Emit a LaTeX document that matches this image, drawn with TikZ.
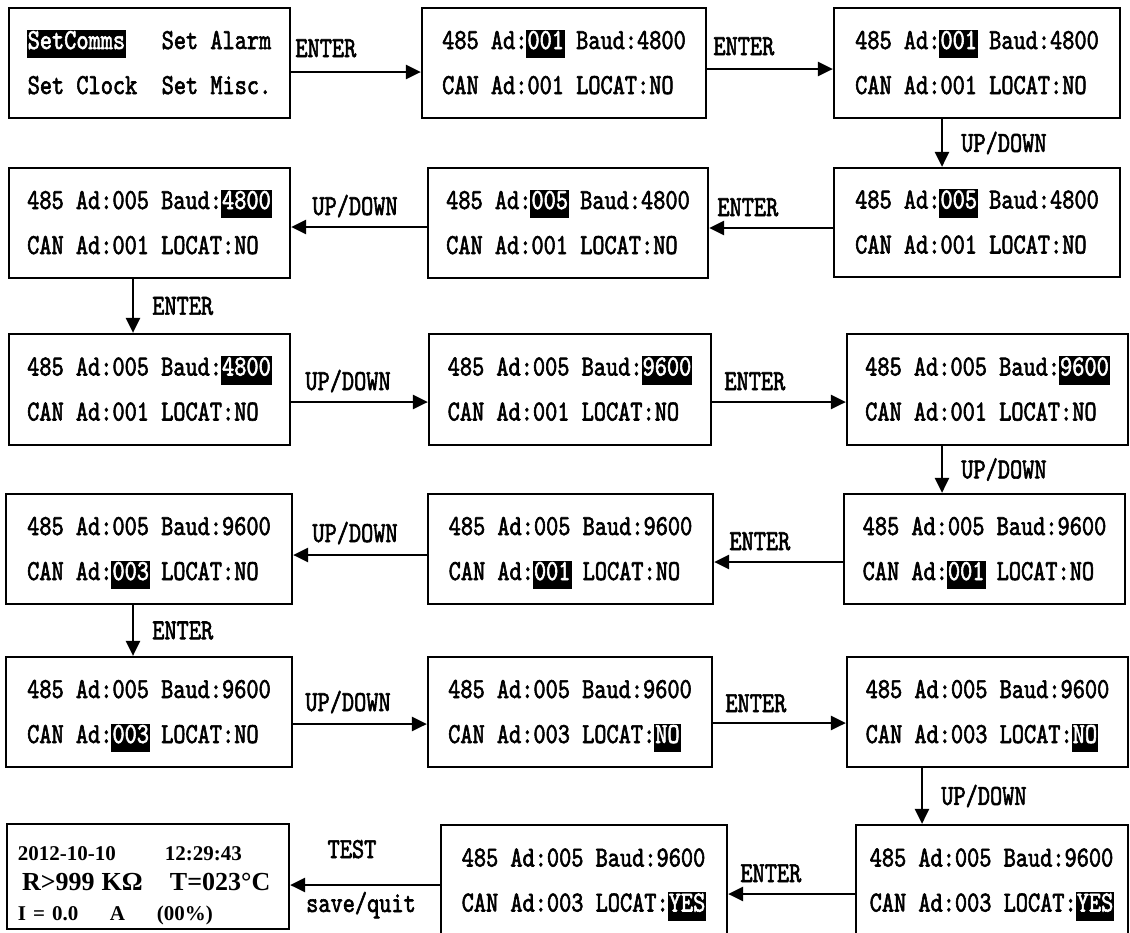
\documentclass[tikz,border=0pt]{standalone}
\usepackage{fontspec}
\usetikzlibrary{arrows.meta, positioning}
\newfontfamily\lcdfont[Extension=.otf,FakeStretch=0.80,FakeBold=2]{lmmono10-regular}
\newfontfamily\dispfont{Liberation Serif}
\newcommand{\lcd}{\lcdfont\fontsize{14.5pt}{22.5pt}\selectfont}
\newcommand{\hl}[1]{\hspace{-0.5pt}{\fboxsep=0.5pt\colorbox{black}{\rule[-4pt]{0pt}{12.6pt}\textcolor{white}{#1}}}\hspace{-0.5pt}}
\tikzset{
  screen/.style 2 args={rectangle,draw=black,line width=1.1pt,align=left,inner sep=0pt,
    font=\lcd,text height=31pt,text depth=0pt,minimum width=#1,minimum height=#2},
  arr/.style={-{Triangle[length=7.5pt,width=7pt]},line width=1.3pt},
  keyh/.style={font=\lcd,anchor=base west,inner sep=0pt,xshift=5.5pt,yshift=6pt},
  keyv/.style={font=\lcd,anchor=west,inner sep=0pt,xshift=9pt},
  keymid/.style={font=\lcd,anchor=base,inner sep=0pt}
}

\begin{document}
\begin{tikzpicture}[x=0.5pt,y=-0.5pt]
  \useasboundingbox (0,0) rectangle (1130,932);

  %% Row 1
  \node[screen={140.5pt}{55pt}] (scr1) at (149.5,63) {\hl{SetComms}~~~Set Alarm\\Set Clock~~Set Misc.};
  \node[screen={142pt}{55pt}] (scr2) at (564,63) {485 Ad:\hl{001} Baud:4800\\CAN Ad:001 LOCAT:NO};
  \node[screen={143pt}{55pt}] (scr3) at (977,63) {485 Ad:\hl{001} Baud:4800\\CAN Ad:001 LOCAT:NO};

  %% Row 2
  \node[screen={143pt}{54.5pt}] (scr4) at (977,222.5) {485 Ad:\hl{005} Baud:4800\\CAN Ad:001 LOCAT:NO};
  \node[screen={140pt}{55pt}] (scr5) at (568,223) {485 Ad:\hl{005} Baud:4800\\CAN Ad:001 LOCAT:NO};
  \node[screen={140.5pt}{55pt}] (scr6) at (149.5,223) {485 Ad:005 Baud:\hl{4800}\\CAN Ad:001 LOCAT:NO};

  %% Row 3
  \node[screen={140.5pt}{55.5pt}] (scr7) at (149.5,389.5) {485 Ad:005 Baud:\hl{4800}\\CAN Ad:001 LOCAT:NO};
  \node[screen={141pt}{55.5pt}] (scr8) at (570,389.5) {485 Ad:005 Baud:\hl{9600}\\CAN Ad:001 LOCAT:NO};
  \node[screen={140.5pt}{55.5pt}] (scr9) at (987.5,389.5) {485 Ad:005 Baud:\hl{9600}\\CAN Ad:001 LOCAT:NO};

  %% Row 4
  \node[screen={140.5pt}{55pt}] (scr10) at (984.5,549) {485 Ad:005 Baud:9600\\CAN Ad:\hl{001} LOCAT:NO};
  \node[screen={142.5pt}{55pt}] (scr11) at (570.5,549) {485 Ad:005 Baud:9600\\CAN Ad:\hl{001} LOCAT:NO};
  \node[screen={143pt}{55pt}] (scr12) at (149,549) {485 Ad:005 Baud:9600\\CAN Ad:\hl{003} LOCAT:NO};

  %% Row 5
  \node[screen={143pt}{55pt}] (scr13) at (149,712) {485 Ad:005 Baud:9600\\CAN Ad:\hl{003} LOCAT:NO};
  \node[screen={142pt}{55pt}] (scr14) at (570,712) {485 Ad:005 Baud:9600\\CAN Ad:003 LOCAT:\hl{NO}};
  \node[screen={140.5pt}{55pt}] (scr15) at (987.5,712) {485 Ad:005 Baud:9600\\CAN Ad:003 LOCAT:\hl{NO}};

  %% Row 6
  \node[screen={136pt}{55.5pt}] (scr16) at (992,880.5) {485 Ad:005 Baud:9600\\CAN Ad:003 LOCAT:\hl{YES}};
  \node[screen={143pt}{55.5pt}] (scr17) at (584,880.5) {485 Ad:005 Baud:9600\\CAN Ad:003 LOCAT:\hl{YES}};
  \node[screen={141pt}{52.5pt},text width=130pt,text height=7pt,text depth=23.5pt,
        font=\dispfont\bfseries\fontsize{10.5pt}{15pt}\selectfont] (test) at (148,876.5)
    {\makebox[73.5pt][l]{2012-10-10}12:29:43\\
     {\fontsize{13pt}{15pt}\selectfont\hspace*{2pt}\makebox[74pt][l]{R>999 KΩ}T=023°C}\\
     \makebox[46pt][l]{I = 0.0}\makebox[23.5pt][l]{A}(00\%)};

  %% Keys
  \draw[arr] ([yshift=-4.5pt]scr1.east) -- node[keyh,at start,xshift=-4pt,yshift=1.5pt]{ENTER} ([yshift=-4.5pt]scr2.west);
  \draw[arr] ([yshift=-3pt]scr2.east) -- node[keyh,at start,xshift=-3pt,yshift=1pt]{ENTER} ([yshift=-3pt]scr3.west);
  \draw[arr] ([xshift=-17.5pt]scr3.south) -- node[keyv]{UP/DOWN} ([xshift=-17.5pt]scr4.north);
  \draw[arr] ([yshift=-2.75pt]scr4.west) -- node[keyh,at end,xshift=-2pt]{ENTER} ([yshift=-2.5pt]scr5.east);
  \draw[arr] ([yshift=-2pt]scr5.west) -- node[keyh,at end,xshift=4.5pt]{UP/DOWN} ([yshift=-2pt]scr6.east);
  \draw[arr] ([xshift=-8.25pt]scr6.south) -- node[keyv]{ENTER} ([xshift=-8.25pt]scr7.north);
  \draw[arr] ([yshift=-6.25pt]scr7.east) -- node[keyh,at start,xshift=1pt]{UP/DOWN} ([yshift=-6.25pt]scr8.west);
  \draw[arr] ([yshift=-6.25pt]scr8.east) -- node[keyh,at start]{ENTER} ([yshift=-6.25pt]scr9.west);
  \draw[arr] ([xshift=-22.75pt]scr9.south) -- node[keyv]{UP/DOWN} ([xshift=-21.25pt]scr10.north);
  \draw[arr] ([yshift=-6.5pt]scr10.west) -- node[keyh,at end,xshift=1.5pt]{ENTER} ([yshift=-6.5pt]scr11.east);
  \draw[arr] ([yshift=-3pt]scr11.west) -- node[keyh,at end,xshift=3.5pt,yshift=0.5pt]{UP/DOWN} ([yshift=-3pt]scr12.east);
  \draw[arr] ([xshift=-8pt]scr12.south) -- node[keyv]{ENTER} ([xshift=-8pt]scr13.north);
  \draw[arr] ([yshift=-6pt]scr13.east) -- node[keyh,at start,yshift=0.5pt]{UP/DOWN} ([yshift=-6pt]scr14.west);
  \draw[arr] ([yshift=-5.5pt]scr14.east) -- node[keyh,at start,yshift=-0.5pt]{ENTER} ([yshift=-5.5pt]scr15.west);
  \draw[arr] ([xshift=-32.75pt]scr15.south) -- node[keyv]{UP/DOWN} ([xshift=-35pt]scr16.north);
  \draw[arr] ([yshift=-6.75pt]scr16.west) -- node[keyh,at end]{ENTER} ([yshift=-6.75pt]scr17.east);
  \draw[arr] ([yshift=-2.25pt]scr17.west) -- node[keymid,xshift=-6.5pt,yshift=13.5pt]{TEST}
    node[keymid,xshift=-2pt,yshift=-13.5pt]{save/quit} ([yshift=-4.25pt]test.east);
\end{tikzpicture}
\end{document}
